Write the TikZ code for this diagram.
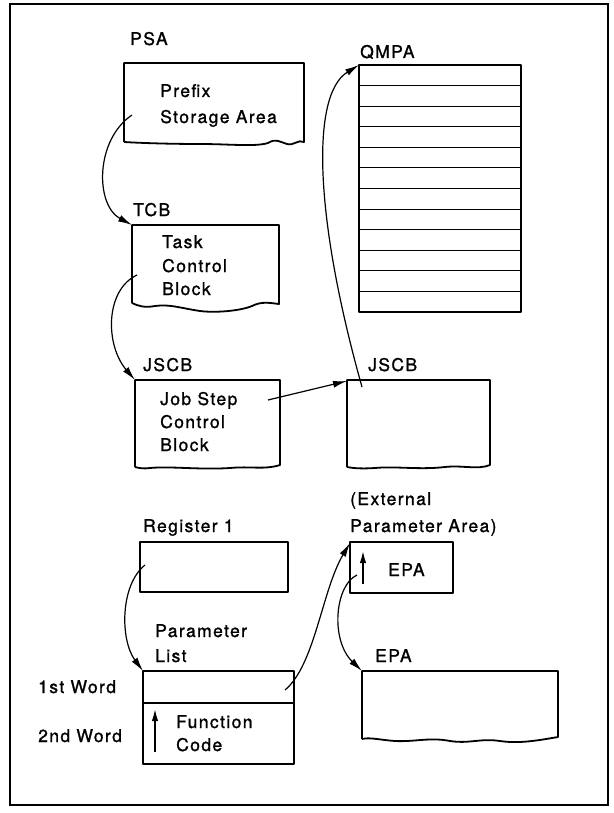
\documentclass[tikz,border=0pt]{standalone}
\usepackage{fontspec}
\setmainfont{TeX Gyre Heros}[LetterSpace=8,FakeBold=1.2]
\usetikzlibrary{arrows.meta}
\begin{document}
\begin{tikzpicture}[x=1pt,y=-1pt,
  frame/.style={line width=2.4pt},
  box/.style={line width=1.8pt, line join=round},
  rowline/.style={line width=1.1pt},
  conn/.style={line width=1.2pt, -{Latex[length=14pt,width=7pt]}},
  uparrow/.style={line width=1.6pt, -{Latex[length=12pt,width=6.5pt]}},
  lbl/.style={anchor=base west, inner sep=0pt, font=\fontsize{17.5}{21}\selectfont}]
\useasboundingbox (0,0) rectangle (613,813);
% frame
\draw[frame] (10,4) rectangle (608,805);

% ---------- PSA ----------
\node[lbl] (psaL) at (130,45) {PSA};
\draw[box] (124,142) -- (124,63) -- (304,63) -- (304,142)
  .. controls (298,139) and (294,146) .. (287,144)
  .. controls (280,142) and (276,138) .. (268,143)
  .. controls (255,147) and (230,144) .. (200,144)
  .. controls (170,144) and (140,143) .. (124,142);
\node[lbl] (psaT1) at (160,97) {Prefix};
\node[lbl] (psaT2) at (160,123) {Storage Area};
\coordinate (psaOut) at (132,115);

% ---------- TCB ----------
\node[lbl] (tcbL) at (133,216) {TCB};
\draw[box] (132,303) -- (132,225) -- (279,225) -- (279,304)
  .. controls (270,303) and (262,301) .. (252,306)
  .. controls (240,311) and (215,313) .. (200,311)
  .. controls (180,308) and (170,304) .. (155,306)
  .. controls (145,308) and (138,306) .. (132,303);
\node[lbl] (tcbT1) at (162,248) {Task};
\node[lbl] (tcbT2) at (162,272) {Control};
\node[lbl] (tcbT3) at (162,295) {Block};
\coordinate (tcbIn) at (132,225);
\coordinate (tcbOut) at (137,275);

% ---------- JSCB (left) ----------
\node[lbl] (jscbL) at (143,371) {JSCB};
\draw[box] (135,467) -- (135,380) -- (280,380) -- (280,465)
  .. controls (265,470) and (250,466) .. (230,468)
  .. controls (200,470) and (170,466) .. (150,468)
  .. controls (143,469) and (139,468) .. (135,467);
\node[lbl] (jscbT1) at (160,405) {Job Step};
\node[lbl] (jscbT2) at (160,428) {Control};
\node[lbl] (jscbT3) at (160,451) {Block};
\coordinate (jscbIn) at (135,380);
\coordinate (jscbOut) at (268,400);

% ---------- JSCB (right) ----------
\node[lbl] (jscbRL) at (368,371) {JSCB};
\draw[box] (347,467) -- (347,380) -- (490,380) -- (490,465)
  .. controls (478,470) and (462,465) .. (445,467)
  .. controls (420,470) and (395,466) .. (375,468)
  .. controls (360,469) and (352,468) .. (347,467);
\coordinate (jscbRIn) at (347,381);
\coordinate (jscbROut) at (362,387);

% ---------- QMPA ----------
\node[lbl] (qmpaL) at (360,58) {QMPA};
\draw[box] (359,65) rectangle (521,312);
\foreach \i in {1,...,11} {
  \draw[rowline] (359,{65+\i*20.58}) -- (521,{65+\i*20.58});
}
\coordinate (qmpaIn) at (359,65);

% ---------- Register 1 ----------
\node[lbl] (regL) at (143,532) {Register 1};
\draw[box] (140,542) rectangle (288,592);
\coordinate (regOut) at (145,565);

% ---------- External Parameter Area ----------
\node[lbl] (extL1) at (350,505) {(External};
\node[lbl] (extL2) at (350,532) {Parameter Area)};
\draw[box] (350,542) rectangle (453,593);
\node[lbl] (epaT) at (388,576) {EPA};
\coordinate (epaUpB) at (363,584);
\coordinate (epaUpT) at (363,551);
\draw[uparrow] (epaUpB) -- (epaUpT);
\coordinate (epaIn) at (350,543);
\coordinate (epaOut) at (357,575);

% ---------- Parameter List ----------
\node[lbl] (plL1) at (155,637) {Parameter};
\node[lbl] (plL2) at (155,662) {List};
\draw[box] (143,671) rectangle (294,764);
\draw[box] (143,703) -- (294,703);
\node[lbl] (w1) at (38,693) {1st Word};
\node[lbl] (w2) at (38,742) {2nd Word};
\node[lbl] (fc1) at (176,728) {Function};
\node[lbl] (fc2) at (176,751) {Code};
\coordinate (fcUpB) at (155,752);
\coordinate (fcUpT) at (155,709);
\draw[uparrow] (fcUpB) -- (fcUpT);
\coordinate (plIn) at (143,671);
\coordinate (plOut) at (285,690);

% ---------- EPA (lower) ----------
\node[lbl] (epa2L) at (375,662) {EPA};
\draw[box] (362,739) -- (362,671) -- (558,671) -- (558,737)
  .. controls (540,740) and (520,744) .. (500,741)
  .. controls (480,738) and (470,744) .. (450,741)
  .. controls (430,737) and (415,742) .. (395,741)
  .. controls (380,740) and (370,737) .. (362,739);
\coordinate (epa2In) at (362,671);

% ---------- connectors ----------
\draw[conn] (psaOut) .. controls (95,140) and (95,205) .. (tcbIn);
\draw[conn] (tcbOut) .. controls (105,290) and (105,345) .. (jscbIn);
\draw[conn] (jscbOut) -- (jscbRIn);
\draw[conn] (jscbROut) .. controls (315,220) and (310,95) .. (qmpaIn);
\draw[conn] (regOut) .. controls (120,585) and (120,640) .. (plIn);
\draw[conn] (plOut) .. controls (315,665) and (322,590) .. (epaIn);
\draw[conn] (epaOut) .. controls (335,585) and (330,640) .. (epa2In);
\end{tikzpicture}
\end{document}
